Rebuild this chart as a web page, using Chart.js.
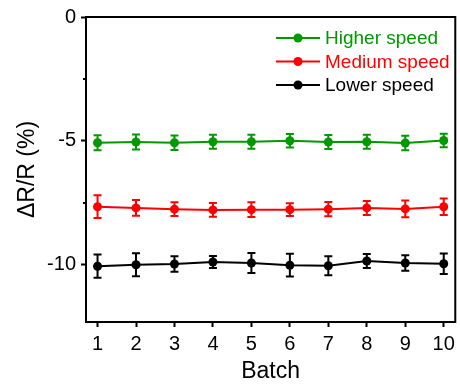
<!DOCTYPE html>
<html>
<head>
<meta charset="utf-8">
<script src="https://cdn.jsdelivr.net/npm/chart.js@4"></script>
<style>
  html, body { margin: 0; padding: 0; background: #fff; }
  #wrap { width: 460px; height: 385px; }
</style>
</head>
<body>
<div id="wrap"><canvas id="chart" width="460" height="385"></canvas></div>
<script>
const batches = [1, 2, 3, 4, 5, 6, 7, 8, 9, 10];
const higher = [-5.07, -5.04, -5.07, -5.03, -5.03, -4.99, -5.04, -5.03, -5.08, -4.98];
const higherErr = [0.30, 0.30, 0.29, 0.28, 0.28, 0.27, 0.28, 0.28, 0.29, 0.27];
const medium = [-7.65, -7.7, -7.75, -7.78, -7.77, -7.77, -7.75, -7.7, -7.74, -7.65];
const mediumErr = [0.46, 0.32, 0.28, 0.28, 0.30, 0.26, 0.29, 0.28, 0.34, 0.33];
const lower = [-10.05, -9.99, -9.96, -9.88, -9.92, -10.01, -10.03, -9.84, -9.92, -9.95];
const lowerErr = [0.47, 0.46, 0.31, 0.24, 0.40, 0.46, 0.38, 0.28, 0.31, 0.41];
const yMajor = [0, -5, -10];
const yMinor = [-2.5, -7.5];

const GREEN = 'rgb(0,153,0)';
const RED = 'rgb(255,0,0)';
const BLACK = '#000';
const FONT = 'Liberation Sans, Arial, sans-serif';

function series(label, ys, errs, color) {
  return {
    label: label,
    data: batches.map((x, i) => ({ x: x, y: ys[i] })),
    errs: errs,
    borderColor: color,
    backgroundColor: color,
    borderWidth: 2,
    pointRadius: 4.5,
    pointHoverRadius: 4.5,
    pointBorderWidth: 0,
    showLine: true,
    tension: 0
  };
}

// error bars, box, minor ticks and the inset legend
const extras = {
  id: 'extras',
  afterDatasetsDraw(chart) {
    const ctx = chart.ctx;
    const xs = chart.scales.x, ys = chart.scales.y;
    chart.data.datasets.forEach(ds => {
      ctx.save();
      ctx.strokeStyle = ds.borderColor;
      ctx.lineWidth = 2;
      ds.data.forEach((p, i) => {
        const px = xs.getPixelForValue(p.x);
        const top = ys.getPixelForValue(p.y + ds.errs[i]);
        const bot = ys.getPixelForValue(p.y - ds.errs[i]);
        ctx.beginPath();
        ctx.moveTo(px, top); ctx.lineTo(px, bot);
        ctx.moveTo(px - 4, top); ctx.lineTo(px + 4, top);
        ctx.moveTo(px - 4, bot); ctx.lineTo(px + 4, bot);
        ctx.stroke();
      });
      ctx.restore();
    });
  },
  afterDraw(chart) {
    const ctx = chart.ctx;
    const a = chart.chartArea;
    const ys = chart.scales.y;
    ctx.save();
    ctx.strokeStyle = '#000';
    ctx.lineWidth = 2;
    ctx.strokeRect(a.left, a.top, a.right - a.left, a.bottom - a.top);
    ctx.beginPath();
    yMinor.forEach(v => {
      const py = ys.getPixelForValue(v);
      ctx.moveTo(a.left - 3, py); ctx.lineTo(a.left, py);
    });
    ctx.stroke();

    // legend
    ctx.font = '19px ' + FONT;
    ctx.textBaseline = 'middle';
    chart.data.datasets.forEach((ds, i) => {
      const y = 38 + i * 23.5;
      ctx.strokeStyle = ds.borderColor;
      ctx.fillStyle = ds.borderColor;
      ctx.lineWidth = 2;
      ctx.beginPath();
      ctx.moveTo(276, y); ctx.lineTo(320, y);
      ctx.stroke();
      ctx.beginPath();
      ctx.arc(298, y, 4.5, 0, Math.PI * 2);
      ctx.fill();
      ctx.fillText(ds.label, 325, y + 1);
    });
    ctx.restore();
  }
};

new Chart(document.getElementById('chart'), {
  type: 'scatter',
  data: {
    datasets: [
      series('Higher speed', higher, higherErr, GREEN),
      series('Medium speed', medium, mediumErr, RED),
      series('Lower speed', lower, lowerErr, BLACK)
    ]
  },
  options: {
    responsive: false,
    animation: false,
    events: [],
    layout: { padding: { top: 16, right: 4, left: 0, bottom: 0 } },
    plugins: { legend: { display: false }, tooltip: { enabled: false } },
    scales: {
      x: {
        type: 'linear',
        min: 0.7,
        max: 10.3,
        afterBuildTicks: s => { s.ticks = batches.map(v => ({ value: v })); },
        afterFit: s => { s.height = 63; },
        grid: { drawOnChartArea: false, tickLength: 5, tickWidth: 2, tickColor: '#000' },
        border: { display: true, color: '#000', width: 2 },
        ticks: { color: '#000', font: { family: FONT, size: 20 }, padding: 5, maxRotation: 0, autoSkip: false },
        title: { display: true, text: 'Batch', color: '#000', font: { family: FONT, size: 23 }, padding: { top: 0, bottom: 0 } }
      },
      y: {
        min: -12.3,
        max: 0,
        afterBuildTicks: s => { s.ticks = yMajor.map(v => ({ value: v })); },
        afterFit: s => { s.width = 86; },
        grid: { drawOnChartArea: false, tickLength: 5, tickWidth: 2, tickColor: '#000' },
        border: { display: true, color: '#000', width: 2 },
        ticks: { color: '#000', font: { family: FONT, size: 20 }, padding: 5 },
        title: { display: true, text: 'ΔR/R (%)', color: '#000', font: { family: FONT, size: 23 }, padding: { top: 14, bottom: 0 } }
      }
    }
  },
  plugins: [extras]
});
</script>
</body>
</html>
